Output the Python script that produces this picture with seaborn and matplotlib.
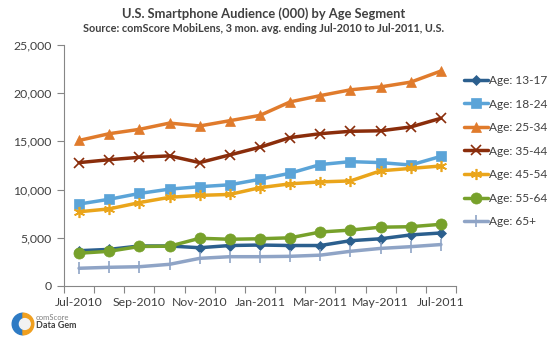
import matplotlib
matplotlib.use("Agg")
import matplotlib.pyplot as plt
import seaborn as sns
import pandas as pd
import numpy as np
from matplotlib.patches import Circle, Wedge

months = ["Jul-2010", "Aug-2010", "Sep-2010", "Oct-2010", "Nov-2010", "Dec-2010",
          "Jan-2011", "Feb-2011", "Mar-2011", "Apr-2011", "May-2011", "Jun-2011", "Jul-2011"]

age_13_17 = [3660, 3800, 4150, 4150, 3970, 4200, 4250, 4200, 4200, 4700, 4900, 5300, 5500]
age_18_24 = [8500, 9000, 9600, 10050, 10300, 10500, 11070, 11700, 12600, 12900, 12800, 12550, 13450]
age_25_34 = [15100, 15800, 16250, 16900, 16600, 17150, 17700, 19100, 19750, 20350, 20650, 21150, 22300]
age_35_44 = [12800, 13100, 13350, 13500, 12800, 13600, 14400, 15400, 15800, 16050, 16100, 16500, 17400]
age_45_54 = [7700, 8000, 8650, 9200, 9400, 9500, 10200, 10600, 10800, 10900, 11950, 12200, 12450]
age_55_64 = [3400, 3600, 4100, 4130, 4950, 4850, 4900, 5000, 5600, 5800, 6100, 6150, 6400]
age_65p = [1840, 1940, 2000, 2250, 2870, 3040, 3040, 3080, 3200, 3600, 3900, 4080, 4300]

series_names = ["Age: 13-17", "Age: 18-24", "Age: 25-34", "Age: 35-44",
                "Age: 45-54", "Age: 55-64", "Age: 65+"]
series_values = [age_13_17, age_18_24, age_25_34, age_35_44, age_45_54, age_55_64, age_65p]

colors = ["#2B5F8E", "#5BA4D8", "#E07B2C", "#8A2D0B", "#EAA51B", "#77A12B", "#8FA4C6"]
markers = ["D", "s", "^", "x", (6, 2, 0), "o", "|"]
msizes = [5, 7, 7, 7, 8, 8, 8]

rows = []
for name, vals in zip(series_names, series_values):
    for i, v in enumerate(vals):
        rows.append({"idx": i, "value": v, "series": name})
df = pd.DataFrame(rows)

sns.set_style("white")
plt.rcParams["font.family"] = ["Lato", "DejaVu Sans"]

fig = plt.figure(figsize=(5.58, 3.4), dpi=100)
ax = fig.add_axes([64/558, 1-286/340, (456-64)/558, (286-45)/340])

for name, c, m, ms in zip(series_names, colors, markers, msizes):
    sub = df[df["series"] == name]
    sns.lineplot(data=sub, x="idx", y="value", ax=ax, color=c, marker=m,
                 markersize=ms, linewidth=2.5, label=name,
                 markeredgecolor=c, markeredgewidth=1.2 if m in ("x", "|") or isinstance(m, tuple) else 0.5)

ax.set_xlim(-0.5, 12.5)
ax.set_ylim(0, 25000)
ax.set_yticks(np.arange(0, 25001, 5000))
ax.set_yticklabels([f"{v:,}" for v in range(0, 25001, 5000)])
ax.set_xticks(np.arange(-0.5, 12.6, 1.0))
ax.set_xticklabels([])
ax.set_xticks(np.arange(0, 13, 2), minor=True)
ax.set_xticklabels([months[i] for i in range(0, 13, 2)], minor=True)
ax.tick_params(axis="x", which="major", length=5, width=0.8, color="#868686", direction="out", bottom=True)
ax.tick_params(axis="x", which="minor", length=0, pad=8, labelsize=8.8, labelcolor="#404040")
ax.tick_params(axis="y", length=5, width=0.8, color="#868686", direction="out", left=True,
               labelsize=8.8, labelcolor="#404040", pad=4)
ax.set_xlabel("")
ax.set_ylabel("")
for s in ["top", "right"]:
    ax.spines[s].set_visible(False)
for s in ["left", "bottom"]:
    ax.spines[s].set_color("#868686")
    ax.spines[s].set_linewidth(0.8)

leg = ax.legend(loc="upper left", bbox_to_anchor=(464/558, 1-75/340), bbox_transform=fig.transFigure,
                frameon=False, fontsize=8.6, handlelength=2.0, handletextpad=0.1,
                labelspacing=1.05, borderaxespad=0, borderpad=0)
for t in leg.get_texts():
    t.set_color("#404040")

fig.text(0.472, 1-14/340, "U.S. Smartphone Audience (000) by Age Segment", ha="center", va="center",
         fontsize=9.3, fontweight="bold", color="#404040")
fig.text(0.472, 1-29/340, "Source: comScore MobiLens, 3 mon. avg. ending Jul-2010 to Jul-2011, U.S.",
         ha="center", va="center", fontsize=7.8, fontweight="bold", color="#404040")

# comScore Data Gem logo (approximation)
lax = fig.add_axes([8/558, 1-336/340, 30/558, 24/340])
lax.set_xlim(-1, 1); lax.set_ylim(-1, 1); lax.set_aspect("equal"); lax.axis("off")
lax.add_patch(Wedge((0, 0), 0.9, 90, 270, color="#2E7BC4"))
lax.add_patch(Wedge((0, 0), 0.9, -90, 90, color="#F0A020"))
lax.add_patch(Circle((0.15, 0.0), 0.45, color="#F2F2F2"))
fig.text(36/558, 1-317/340, "comScore", fontsize=5.5, color="#7F7F7F", va="center")
fig.text(36/558, 1-326/340, "Data Gem", fontsize=6.5, color="#404040", fontweight="bold", va="center")

fig.savefig("out.png", dpi=100)
